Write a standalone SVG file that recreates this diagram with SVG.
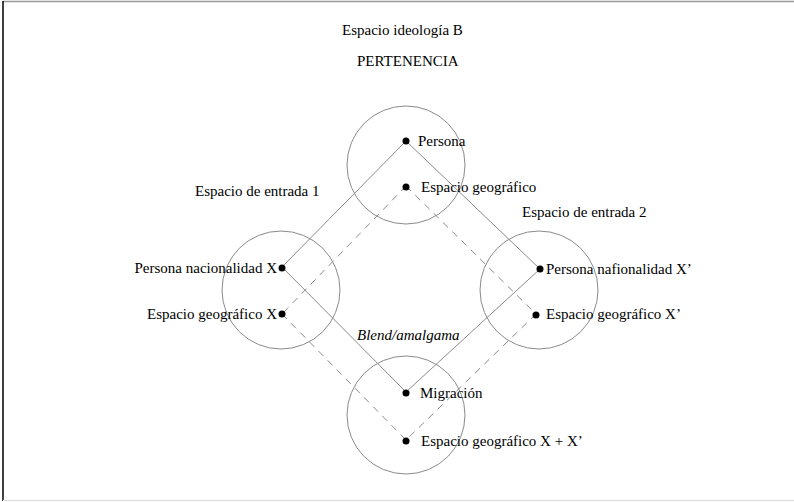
<svg xmlns="http://www.w3.org/2000/svg" width="794" height="502" viewBox="0 0 794 502">
<style>
text{font-family:"Liberation Serif","Times New Roman",serif;font-size:15px;fill:#000}
.c{fill:none;stroke:#8a8a8a;stroke-width:1}
.s{stroke:#8a8a8a;stroke-width:1;fill:none}
.d{stroke:#8a8a8a;stroke-width:1;fill:none;stroke-dasharray:7,6}
.p{fill:#000}
</style>
<rect x="0" y="0" width="794" height="502" fill="#fff"/>
<line x1="3" y1="1.5" x2="794" y2="1.5" stroke="#999" stroke-width="1.5"/>
<line x1="3" y1="1" x2="3" y2="501" stroke="#000" stroke-width="1.5"/>
<line x1="3" y1="500.5" x2="794" y2="500.5" stroke="#e0e0e0" stroke-width="1.5"/>
<g id="titles">
<text x="342" y="35">Espacio ideología B</text>
<text x="357" y="66">PERTENENCIA</text>
<text x="195" y="196">Espacio de entrada 1</text>
<text x="522" y="217">Espacio de entrada 2</text>
<text x="357" y="340" font-style="italic">Blend/amalgama</text>
</g>
<g id="circles">
<circle id="space-top" class="c" cx="406" cy="165" r="59"/>
<circle id="space-left" class="c" cx="281" cy="290" r="59"/>
<circle id="space-right" class="c" cx="539" cy="290" r="59"/>
<circle id="space-bottom" class="c" cx="406" cy="415" r="59"/>
</g>
<g id="connectors">
<line class="s" x1="406" y1="141" x2="282" y2="267"/>
<line class="s" x1="406" y1="141" x2="540" y2="269"/>
<line class="s" x1="282" y1="267" x2="406" y2="392"/>
<line class="s" x1="540" y1="269" x2="406" y2="392"/>
<line class="d" x1="406" y1="186" x2="282" y2="314"/>
<line class="d" x1="406" y1="186" x2="536" y2="314"/>
<line class="d" x1="282" y1="314" x2="406" y2="440"/>
<line class="d" x1="536" y1="314" x2="406" y2="440"/>
</g>
<g id="n-persona"><circle class="p" cx="406" cy="141" r="3.5"/><text x="418" y="146">Persona</text></g>
<g id="n-geo"><circle class="p" cx="406" cy="187" r="3.5"/><text x="421" y="192">Espacio geográfico</text></g>
<g id="n-persona-x"><circle class="p" cx="282" cy="268" r="3.5"/><text x="277" y="273" text-anchor="end">Persona nacionalidad X</text></g>
<g id="n-geo-x"><circle class="p" cx="282" cy="314" r="3.5"/><text x="277" y="319" text-anchor="end">Espacio geográfico X</text></g>
<g id="n-persona-x2"><circle class="p" cx="540" cy="269" r="3.5"/><text x="546" y="274">Persona nafionalidad X’</text></g>
<g id="n-geo-x2"><circle class="p" cx="536" cy="315" r="3.5"/><text x="546" y="319">Espacio geográfico X’</text></g>
<g id="n-migracion"><circle class="p" cx="406" cy="393" r="3.5"/><text x="420" y="398">Migración</text></g>
<g id="n-geo-xx"><circle class="p" cx="406" cy="441" r="3.5"/><text x="421" y="446">Espacio geográfico X + X’</text></g>
</svg>
